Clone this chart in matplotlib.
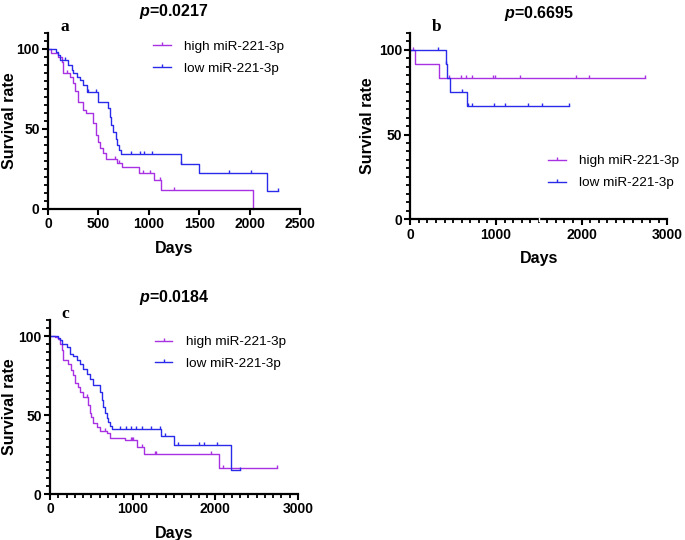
import matplotlib
matplotlib.use('Agg')
import matplotlib.pyplot as plt
import numpy as np
from matplotlib.path import Path
from matplotlib.lines import Line2D
from matplotlib.ticker import MultipleLocator, NullLocator

plt.rcParams['font.family'] = ['Liberation Sans', 'DejaVu Sans']
plt.rcParams['font.weight'] = 'bold'
plt.rcParams['mathtext.fontset'] = 'custom'
plt.rcParams['mathtext.it'] = 'Liberation Sans:italic:bold'
plt.rcParams['mathtext.rm'] = 'Liberation Sans:bold'

HIGH_COL = '#A832E2'
LOW_COL = '#2A2AEA'
labels = ['high miR-221-3p', 'low miR-221-3p']

########################################################################################
# panel a
a_title = '$p$=0.0217'
a_high_t = [30, 100, 135, 150, 215, 250, 265, 300, 350, 380, 450, 480, 500, 515, 545, 580,
            688, 730, 900, 1050, 1120, 2033]
a_high_s = [97.5, 95, 92, 85, 82.5, 78.5, 73.5, 67, 62, 60, 53.5, 46, 42, 38, 35, 31.5,
            28.8, 26.3, 22.7, 18.1, 11.7, 0]
a_high_end = 2033
a_high_cens = [190, 665, 700, 944, 1017, 1109, 1251]

a_low_t = [80, 96, 120, 200, 234, 250, 284, 317, 350, 383, 495, 597, 614, 630, 647, 673,
           686, 706, 729, 1317, 1495, 2175]
a_low_s = [98.3, 96, 93, 90, 87, 85, 82.7, 80.6, 77.5, 73.3, 67, 63, 57.7, 52.5, 48.3, 44,
           40, 37, 34.2, 28.3, 22.5, 11.2]
a_low_end = 2280
a_low_cens = [170, 400, 480, 828, 911, 950, 1030, 1317, 1792, 2010, 2280]

# panel b
b_title = '$p$=0.6695'
b_high_t = [50, 333]
b_high_s = [91.7, 83.3]
b_high_end = 2737
b_high_cens = [30, 451, 596, 654, 722, 971, 994, 1281, 1938, 2083, 2737]

b_low_t = [413, 425, 460, 662]
b_low_s = [91.7, 83.3, 75, 66.7]
b_low_end = 1854
b_low_cens = [325, 420, 600, 669, 715, 975, 1101, 1380, 1537, 1854]

# panel c
c_title = '$p$=0.0184'
c_high_t = [60, 100, 121, 141, 161, 221, 250, 282, 302, 342, 362, 403, 463, 483, 500, 523,
            563, 604, 684, 725, 910, 1055, 1135, 2045]
c_high_s = [99.4, 98, 95.2, 91, 84.7, 82.6, 78.4, 75.2, 70, 67.8, 64.7, 61.5, 56.3, 51.1,
            48.9, 44.8, 42.7, 40, 38.4, 35.3, 34.2, 30, 25.2, 16.8]
c_high_end = 2750
c_high_cens = [450, 670, 980, 995, 1010, 1115, 1268, 1288, 1952, 2093, 2750]

c_low_t = [100, 121, 141, 201, 242, 282, 322, 362, 403, 443, 483, 523, 604, 624, 644, 664,
           684, 705, 725, 745, 1337, 1500, 2190]
c_low_s = [99, 97.3, 94.8, 93, 88.9, 87.2, 84.7, 82.6, 79.4, 75.8, 73, 68.9, 64.7, 59.4,
           55.2, 51, 47.9, 45.7, 43, 41.2, 36.8, 31.3, 15.5]
c_low_end = 2295
c_low_cens = [845, 918, 978, 1040, 1107, 1220, 1328, 1389, 1545, 1800, 1860, 2025, 2295]

########################################################################################

# censor tick goes up from the curve
tick_marker = Path([(0, 0), (0, 1)], [Path.MOVETO, Path.LINETO])


def km_curve(ax, t, s, end, cens, col):
    xs = [0] + list(t) + [end]
    ys = [100] + list(s) + [s[-1]]
    ax.step(xs, ys, where='post', color=col, lw=1.0, clip_on=False)
    tt = np.array(t)
    ss = np.array([100] + list(s))
    cy = [ss[np.searchsorted(tt, c, side='right')] for c in cens]
    ax.plot(cens, cy, ls='none', marker=tick_marker, ms=5, mew=1.0, color=col, clip_on=False)


def style_axis(ax, xmax, xmajor, xminor, ylab_x):
    for side in ['top', 'right']:
        ax.spines[side].set_visible(False)
    for side in ['left', 'bottom']:
        ax.spines[side].set_linewidth(1.6)
    ax.set_xlim(0, xmax)
    ax.set_ylim(0, 110)
    ax.xaxis.set_major_locator(MultipleLocator(xmajor))
    if xminor:
        ax.xaxis.set_minor_locator(MultipleLocator(xminor))
    else:
        ax.xaxis.set_minor_locator(NullLocator())
    ax.set_yticks([0, 50, 100])
    ax.yaxis.set_minor_locator(MultipleLocator(5))
    ax.tick_params(which='major', length=4, width=1.5, labelsize=10, pad=2)
    ax.tick_params(which='minor', length=2.8, width=1.3)
    for lab in ax.get_xticklabels() + ax.get_yticklabels():
        lab.set_fontweight('bold')
    ax.set_xlabel('Days', fontsize=11.5, fontweight='bold', labelpad=7)
    ax.set_ylabel('Survival rate', fontsize=11.5, fontweight='bold')
    ax.yaxis.set_label_coords(ylab_x, 0.5)


def add_legend(fig, x, y):
    handles = [Line2D([0], [0], color=HIGH_COL, lw=1.0, marker=tick_marker, ms=5, mew=1.0),
               Line2D([0], [0], color=LOW_COL, lw=1.0, marker=tick_marker, ms=5, mew=1.0)]
    fig.legend(handles, labels, loc='upper left', bbox_to_anchor=(x, y), frameon=False,
               handlelength=1.3, handletextpad=1.0, labelspacing=0.7,
               prop={'size': 9.7, 'weight': 'normal'}, borderpad=0, borderaxespad=0)


fig = plt.figure(figsize=(6.85, 5.4), dpi=100)

axa = fig.add_axes([0.070, 0.613, 0.368, 0.326])
km_curve(axa, a_high_t, a_high_s, a_high_end, a_high_cens, HIGH_COL)
km_curve(axa, a_low_t, a_low_s, a_low_end, a_low_cens, LOW_COL)
style_axis(axa, 2500, 500, None, -0.123)
axa.set_title(a_title, fontsize=11.5, fontweight='bold', pad=12)
axa.text(0.05, 0.99, 'a', transform=axa.transAxes, family='Liberation Serif',
         fontsize=12.5, fontweight='bold', va='bottom')
add_legend(fig, 0.224, 0.925)

axb = fig.add_axes([0.599, 0.594, 0.375, 0.345])
km_curve(axb, b_high_t, b_high_s, b_high_end, b_high_cens, HIGH_COL)
km_curve(axb, b_low_t, b_low_s, b_low_end, b_low_cens, LOW_COL)
style_axis(axb, 3000, 1000, 100, -0.136)
# small break in the x axis line, as in the original
axb.plot([1500, 1500], [-1.0, 1.0], color='white', lw=1.0, clip_on=False, zorder=5)
axb.set_title(b_title, fontsize=11.5, fontweight='bold', pad=11)
axb.text(0.085, 0.99, 'b', transform=axb.transAxes, family='Liberation Serif',
         fontsize=12.5, fontweight='bold', va='bottom')
add_legend(fig, 0.800, 0.713)

axc = fig.add_axes([0.073, 0.085, 0.362, 0.322])
km_curve(axc, c_high_t, c_high_s, c_high_end, c_high_cens, HIGH_COL)
km_curve(axc, c_low_t, c_low_s, c_low_end, c_low_cens, LOW_COL)
style_axis(axc, 3000, 1000, 100, -0.135)
axc.set_title(c_title, fontsize=11.5, fontweight='bold', pad=13)
axc.text(0.045, 0.99, 'c', transform=axc.transAxes, family='Liberation Serif',
         fontsize=12.5, fontweight='bold', va='bottom')
add_legend(fig, 0.226, 0.378)

plt.savefig('out.png', dpi=100)
